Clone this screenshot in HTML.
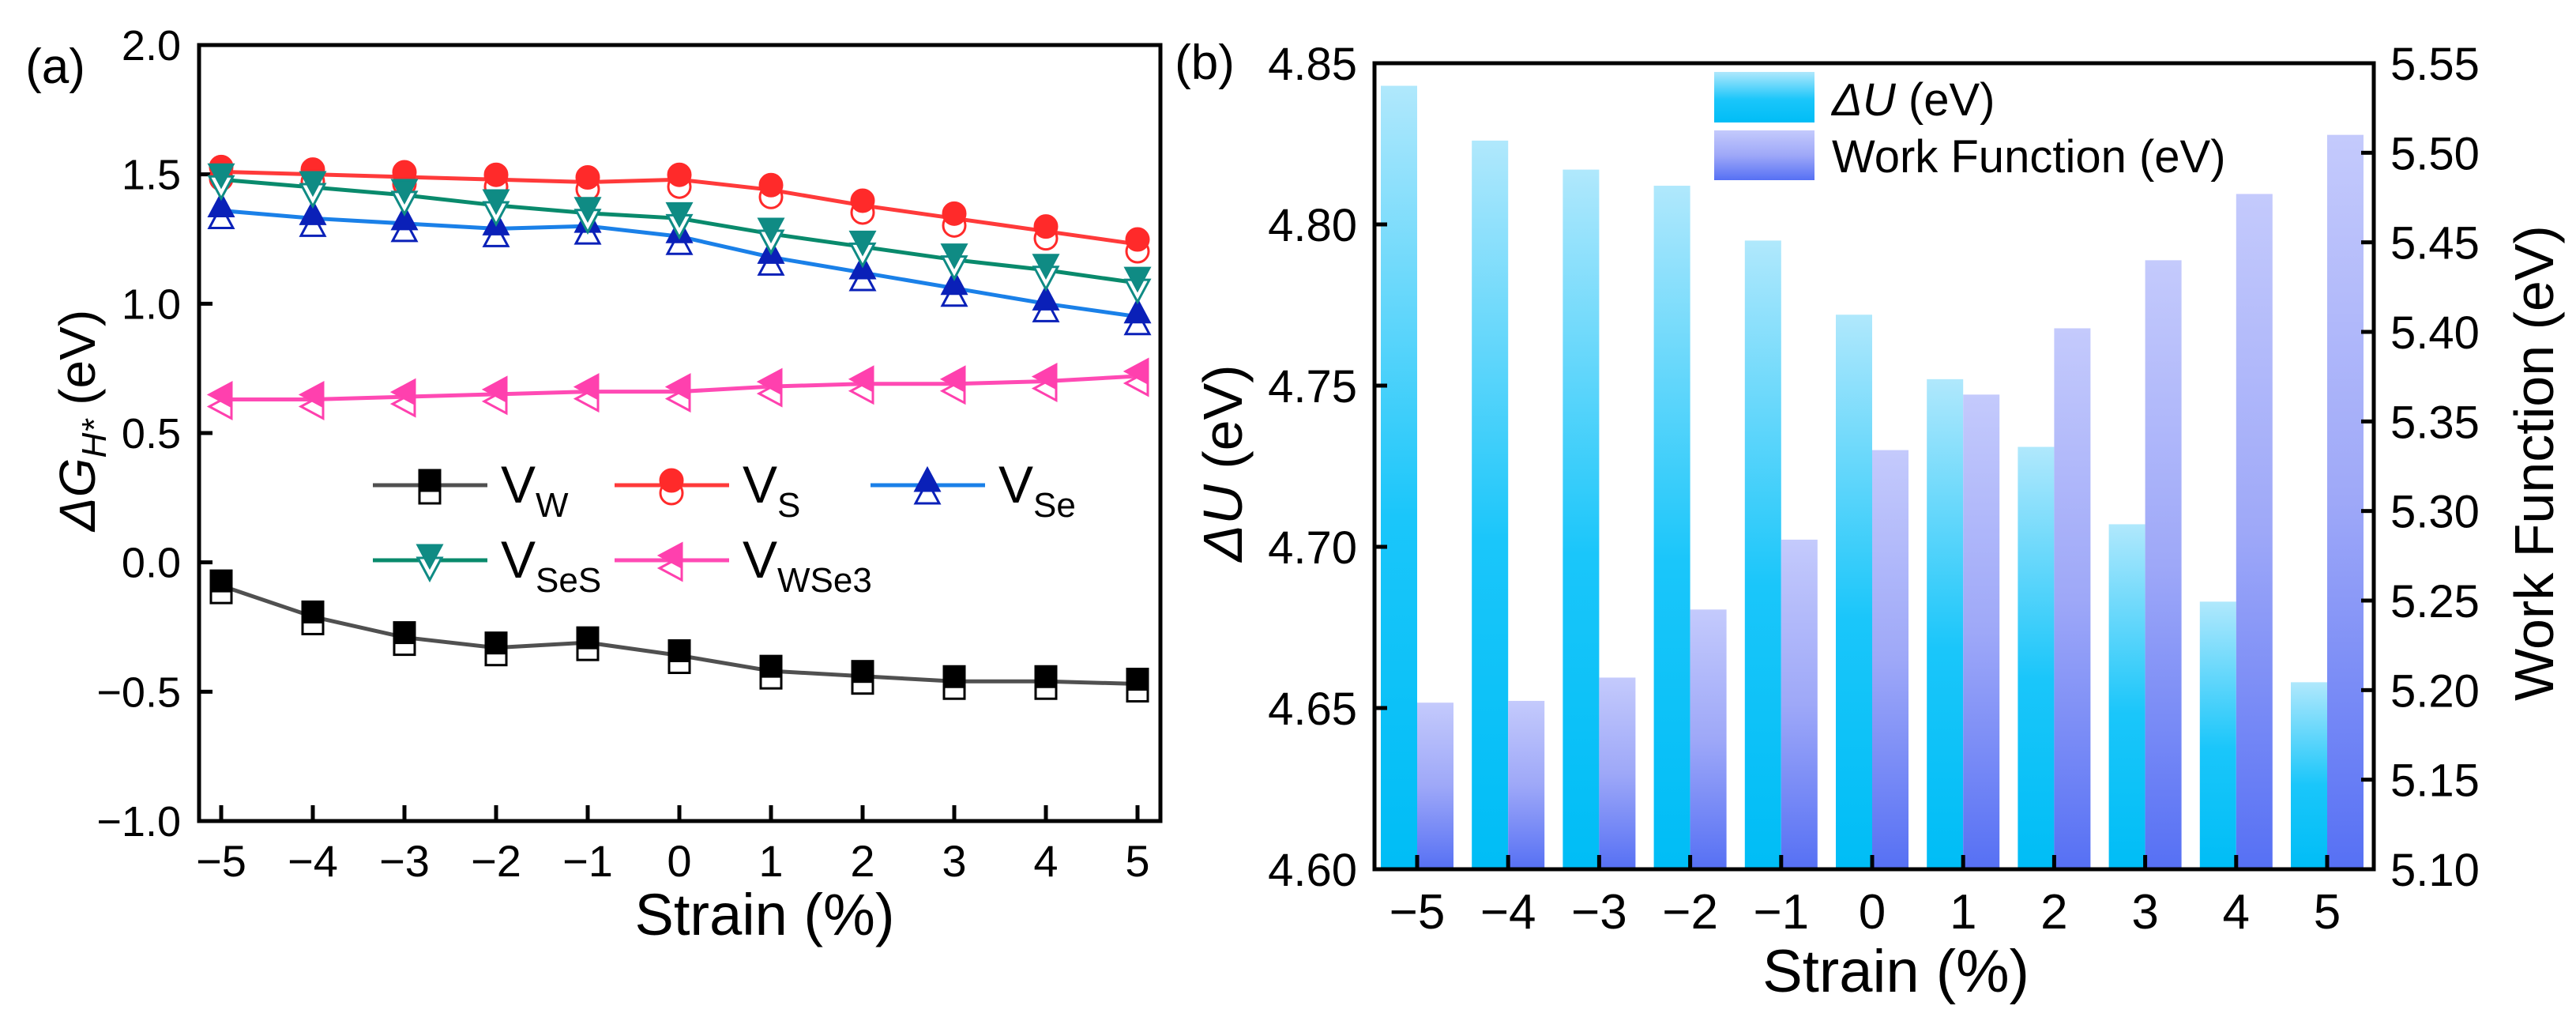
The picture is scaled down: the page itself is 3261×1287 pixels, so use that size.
<!DOCTYPE html>
<html><head><meta charset="utf-8"><style>
html,body{margin:0;padding:0;background:#fff;}
svg{display:block;font-family:"Liberation Sans",Arial,sans-serif;}
</style></head><body>
<svg id="fig" width="3261" height="1287" viewBox="0 0 3261 1287">
<defs>
<linearGradient id="gc" x1="0" y1="0" x2="0" y2="1"><stop offset="0" stop-color="#b0e8fc"/><stop offset="0.55" stop-color="#1ac6fa"/><stop offset="1" stop-color="#00bdf6"/></linearGradient>
<linearGradient id="gp" x1="0" y1="0" x2="0" y2="1"><stop offset="0" stop-color="#c4cafc"/><stop offset="0.5" stop-color="#9ea8f8"/><stop offset="1" stop-color="#5670f4"/></linearGradient>
</defs>
</svg>
<script>
// ---- data ----
const strain = [-5,-4,-3,-2,-1,0,1,2,3,4,5];
const vW    = [-0.09,-0.21,-0.29,-0.33,-0.31,-0.36,-0.42,-0.44,-0.46,-0.46,-0.47];
const vS    = [1.51,1.50,1.49,1.48,1.47,1.48,1.44,1.38,1.33,1.28,1.23];
const vSe   = [1.36,1.33,1.31,1.29,1.30,1.26,1.18,1.12,1.06,1.00,0.95];
const vSeS  = [1.48,1.45,1.42,1.38,1.35,1.33,1.27,1.22,1.17,1.13,1.08];
const vWSe3 = [0.63,0.63,0.64,0.65,0.66,0.66,0.68,0.69,0.69,0.70,0.72];
const aYTicks = [-1.0,-0.5,0.0,0.5,1.0,1.5,2.0];
const dU = [4.843,4.826,4.817,4.812,4.795,4.772,4.752,4.731,4.707,4.683,4.658];
const wf = [5.193,5.194,5.207,5.245,5.284,5.334,5.365,5.402,5.440,5.477,5.510];
const bLeftTicks = [4.60,4.65,4.70,4.75,4.80,4.85];
const bRightTicks = [5.10,5.15,5.20,5.25,5.30,5.35,5.40,5.45,5.50,5.55];

const NS='http://www.w3.org/2000/svg';
const svg=document.getElementById('fig');
function mk(tag,attrs,parent){const e=document.createElementNS(NS,tag);for(const k in attrs)e.setAttribute(k,attrs[k]);(parent||svg).appendChild(e);return e;}
function txt(s,x,y,size,anchor,parent){const t=mk('text',{x:x,y:y,'font-size':size,'text-anchor':anchor||'middle',fill:'#000'},parent);t.textContent=s;return t;}
function fmt(v,d){const s=Math.abs(v).toFixed(d);return (v<0?'\u2212':'')+s;}

// ---- panel a ----
const A={l:252,r:1469,t:57,b:1039};
const ax=v=>280+(v+5)*116;
const ay=v=>A.b-(v+1)*(A.b-A.t)/3;
const ga=mk('g',{});


const la=txt('(a)',70,105,62,'middle',ga);

aYTicks.forEach(v=>{mk('line',{x1:A.l,x2:A.l+17,y1:ay(v),y2:ay(v),stroke:'#000','stroke-width':5},ga);
 const t=txt(fmt(v,1),229,ay(v)+19,54,'end',ga);});
strain.forEach(v=>{mk('line',{x1:ax(v),x2:ax(v),y1:A.b-20,y2:A.b,stroke:'#000','stroke-width':5},ga);
 const t=txt(fmt(v,0),ax(v),A.b+70,56,'middle',ga);});
const axt=txt('Strain (%)',968,1183,74,'middle',ga);

const ayt=mk('text',{x:0,y:0,'font-size':64,'text-anchor':'middle',transform:'translate(120,532) rotate(-90)'},ga);

ayt.innerHTML='<tspan font-style="italic">ΔG</tspan><tspan font-style="italic" font-size="44" dy="14">H*</tspan><tspan dy="-14"> (eV)</tspan>';

function marker(shape,x,y,fill,stroke,p){
 const s=13;let e;
 if(shape==='sq') e=mk('rect',{x:x-s,y:y-s,width:2*s,height:2*s},p);
 else if(shape==='ci') e=mk('circle',{cx:x,cy:y,r:s+1},p);
 else if(shape==='tu') e=mk('polygon',{points:`${x},${y-s-2} ${x-s-2},${y+s} ${x+s+2},${y+s}`},p);
 else if(shape==='td') e=mk('polygon',{points:`${x},${y+s+2} ${x-s-2},${y-s} ${x+s+2},${y-s}`},p);
 else e=mk('polygon',{points:`${x-s-2},${y} ${x+s},${y-s-2} ${x+s},${y+s+2}`},p);
 e.setAttribute('fill',fill);e.setAttribute('stroke',stroke);e.setAttribute('stroke-width',3);return e;}
const series=[
 {name:'vw',d:vW,line:'#505050',mk:'#000',sh:'sq'},
 {name:'vs',d:vS,line:'#ff3a3a',mk:'#ff2a2a',sh:'ci'},
 {name:'vse',d:vSe,line:'#1a80e8',mk:'#0a20b8',sh:'tu'},
 {name:'vses',d:vSeS,line:'#098a6c',mk:'#0f8b84',sh:'td'},
 {name:'vwse3',d:vWSe3,line:'#ff4ab4',mk:'#ff40ae',sh:'tl'}];
series.forEach(s=>{
 const g=mk('g',{},ga);
 
 
 mk('polyline',{points:s.d.map((v,i)=>ax(strain[i])+','+ay(v)).join(' '),fill:'none',stroke:s.line,'stroke-width':5},g);
 s.d.forEach((v,i)=>{marker(s.sh,ax(strain[i]),ay(v)+9,'#fff',s.mk,g);marker(s.sh,ax(strain[i]),ay(v)-6,s.mk,s.mk,g);});
});
mk('rect',{x:A.l,y:A.t,width:A.r-A.l,height:A.b-A.t,fill:'none',stroke:'#000','stroke-width':5},ga);
// legend a
const leg=[[series[0],'W',472,614],[series[1],'S',778,614],[series[2],'Se',1102,614],[series[3],'SeS',472,709],[series[4],'WSe3',778,709]];
leg.forEach(([s,sub,x,y])=>{
 const g=mk('g',{},ga);
 
 
 mk('line',{x1:x,x2:x+145,y1:y,y2:y,stroke:s.line,'stroke-width':5},g);
 marker(s.sh,x+72,y+10,'#fff',s.mk,g);marker(s.sh,x+72,y-6,s.mk,s.mk,g);
 const t=mk('text',{x:x+162,y:y+22,'font-size':66},g);
 t.innerHTML='V<tspan font-size="44" dy="18">'+sub+'</tspan>';
});

// ---- panel b ----
const B={l:1740,r:3005,t:80,b:1100};
const bx=v=>1794+(v+5)*115.2;
const byL=v=>B.b-(v-4.60)/0.25*(B.b-B.t);
const byR=v=>B.b-(v-5.10)/0.45*(B.b-B.t);
const gb=mk('g',{});


const lb=txt('(b)',1525,100,62,'middle',gb);

const bw=46;
strain.forEach((v,i)=>{
 const r1=mk('rect',{x:bx(v)-bw,y:byL(dU[i]),width:bw,height:B.b-byL(dU[i]),fill:'url(#gc)'},gb);
 
 const r2=mk('rect',{x:bx(v),y:byR(wf[i]),width:bw,height:B.b-byR(wf[i]),fill:'url(#gp)'},gb);
 
 mk('line',{x1:bx(v),x2:bx(v),y1:B.b-18,y2:B.b,stroke:'#000','stroke-width':5},gb);
 const t=txt(fmt(v,0),bx(v),B.b+75,62,'middle',gb);
});
bLeftTicks.forEach(v=>{mk('line',{x1:B.l,x2:B.l+16,y1:byL(v),y2:byL(v),stroke:'#000','stroke-width':5},gb);
 const t=txt(v.toFixed(2),1718,byL(v)+21,58,'end',gb);});
bRightTicks.forEach(v=>{mk('line',{x1:B.r-16,x2:B.r,y1:byR(v),y2:byR(v),stroke:'#000','stroke-width':5},gb);
 const t=txt(v.toFixed(2),3026,byR(v)+21,58,'start',gb);});
mk('rect',{x:B.l,y:B.t,width:B.r-B.l,height:B.b-B.t,fill:'none',stroke:'#000','stroke-width':5},gb);
const bxt=txt('Strain (%)',2400,1255,76,'middle',gb);

const blt=mk('text',{x:0,y:0,'font-size':70,'text-anchor':'middle',transform:'translate(1572,586) rotate(-90)'},gb);

blt.innerHTML='<tspan font-style="italic">ΔU</tspan> (eV)';
const brt=mk('text',{x:0,y:0,'font-size':70,'text-anchor':'middle',transform:'translate(3232,586) rotate(-90)'},gb);

brt.textContent='Work Function (eV)';
// legend b
const lg1=mk('g',{},gb);

mk('rect',{x:2170,y:91,width:127,height:64,fill:'url(#gc)'},lg1);
const t1=mk('text',{x:2319,y:146,'font-size':58},lg1);t1.innerHTML='<tspan font-style="italic">ΔU</tspan> (eV)';
const lg2=mk('g',{},gb);

mk('rect',{x:2170,y:165,width:127,height:63,fill:'url(#gp)'},lg2);
const t2=mk('text',{x:2319,y:218,'font-size':58},lg2);t2.textContent='Work Function (eV)';
</script>
</body></html>
